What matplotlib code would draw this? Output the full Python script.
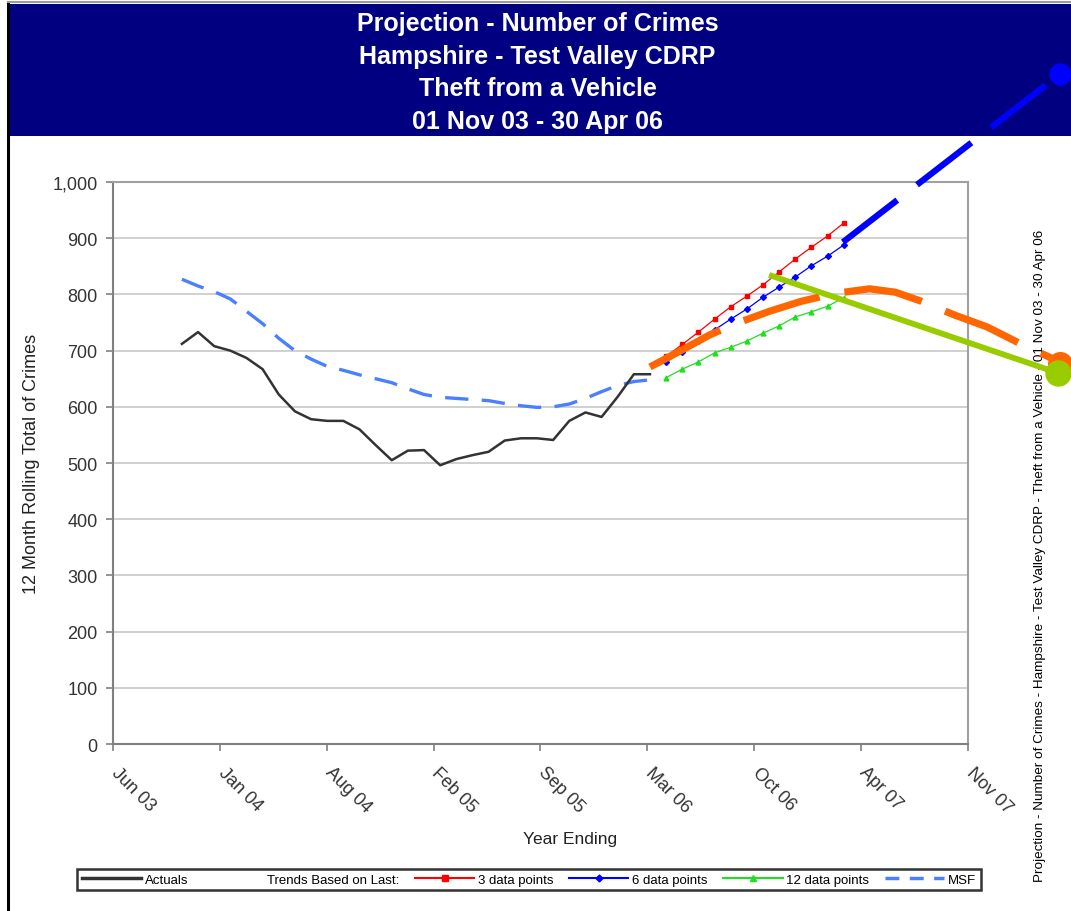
import matplotlib
matplotlib.use("Agg")
import matplotlib.pyplot as plt
import matplotlib.transforms as mtransforms
import numpy as np
from matplotlib.lines import Line2D
from matplotlib.patches import Rectangle

plt.rcParams["font.family"] = ["Liberation Sans", "DejaVu Sans"]

# --- data (x = months since Nov 03, y = 12 month rolling total) ---
actual_m = list(range(30))
actuals = [712, 733, 708, 700, 687, 667, 622, 592, 578, 575,
           575, 560, 532, 505, 522, 523, 496, 507, 514, 520,
           540, 544, 544, 541, 575, 590, 582, 618, 658, 658]
msf = [827, 815, 805, 792, 770, 748, 722, 700, 685, 672,
       665, 657, 650, 643, 632, 622, 617, 615, 613, 611,
       606, 602, 599, 600, 605, 615, 627, 638, 645, 648]

proj_m = list(range(30, 42))
trend_3 = [690, 711, 733, 756, 778, 797, 817, 840, 863, 884, 904, 927]
trend_6 = [680, 698, 717, 737, 756, 774, 795, 813, 831, 851, 868, 888]
trend_12 = [652, 667, 680, 696, 706, 717, 731, 744, 760, 769, 779, 794]

# hand-drawn annotations laid over the chart
blue_note_m = [40.95, 54.4]
blue_note_v = [893, 1192]
orange_note_m = [29.0, 30.85, 32.7, 34.4, 36.4, 38.4, 40.5, 42.6, 44.2,
                 45.8, 47.9, 49.9, 51.9, 54.0, 54.4]
orange_note_v = [671, 699, 728, 749, 770, 788, 802, 810, 804,
                 788, 763, 742, 713, 685, 676]
green_note_m = [36.55, 54.3]
green_note_v = [833, 660]

tick_labels = ["Jun 03", "Jan 04", "Aug 04", "Feb 05", "Sep 05",
               "Mar 06", "Oct 06", "Apr 07", "Nov 07"]
title_lines = ["Projection - Number of Crimes", "Hampshire - Test Valley CDRP",
               "Theft from a Vehicle", "01 Nov 03 - 30 Apr 06"]
side_note = ("Projection - Number of Crimes - Hampshire - Test Valley CDRP - "
             "Theft from a Vehicle - 01 Nov 03 - 30 Apr 06")

fig = plt.figure(figsize=(10.71, 9.12), dpi=100)

# navy title banner
fig.patches.append(Rectangle((0.0075, 0.850), 0.9925, 0.145, transform=fig.transFigure,
                             facecolor="#000080", edgecolor="none", zorder=-1))
for i, line in enumerate(title_lines):
    fig.text(0.502, 0.974 - i * 0.036, line, color="white", fontsize=18,
             fontweight="bold", ha="center", va="center")
fig.add_artist(Line2D([0.0075, 0.0075], [0, 0.997], transform=fig.transFigure,
                      color="black", lw=2.2))
fig.add_artist(Line2D([0.0075, 1.0], [0.997, 0.997], transform=fig.transFigure,
                      color="#9a9a9a", lw=1.5))

ax = fig.add_axes([0.1055, 0.1831, 0.7983, 0.6162])
ax.set_xlim(-4.27, 48.7)
ax.set_ylim(0, 1000)

ax.plot(actual_m, actuals, color="#333333", lw=1.8, zorder=4)
ax.plot(actual_m, msf, color="#4A80FF", lw=2.4, dashes=(7, 4), zorder=3)
ax.plot(proj_m, trend_3, color="#FF0000", lw=0.9, marker="s", ms=3.5, zorder=3)
ax.plot(proj_m, trend_6, color="#0000FF", lw=0.9, marker="D", ms=3, zorder=3)
ax.plot(proj_m, trend_12, color="#22DD22", lw=0.9, marker="^", ms=3.5, zorder=3)

# annotations spill outside the plot area
ax.plot(blue_note_m, blue_note_v, color="#0000FF", lw=4.5, dashes=(11, 4),
        clip_on=False, zorder=6, solid_capstyle="butt")
ax.plot(blue_note_m[-1:], blue_note_v[-1:], "o", color="#0000FF", ms=15,
        clip_on=False, zorder=6)
ax.plot(orange_note_m, orange_note_v, color="#FF6600", lw=5.2, dashes=(11, 3.5),
        clip_on=False, zorder=6)
ax.plot(orange_note_m[-1:], orange_note_v[-1:], "o", color="#FF6600", ms=17,
        clip_on=False, zorder=6)
ax.plot(green_note_m, green_note_v, color="#99CC00", lw=4.2, clip_on=False, zorder=7)
ax.plot(green_note_m[-1:], green_note_v[-1:], "o", color="#99CC00", ms=18,
        clip_on=False, zorder=7)

ax.set_yticks(np.arange(0, 1001, 100))
ax.set_yticklabels([f"{v:,}" for v in range(0, 1001, 100)])
ax.set_xticks(np.linspace(-4.27, 48.7, len(tick_labels)))
ax.set_xticklabels(tick_labels, rotation=-45, ha="left", va="top",
                   rotation_mode="anchor")
ax.tick_params(axis="both", colors="#808080", labelcolor="#333333",
               labelsize=13, length=5, width=1.2)
ax.tick_params(axis="x", pad=9)
ax.tick_params(axis="y", pad=6)
shift = mtransforms.ScaledTranslation(7 / 100, 0, fig.dpi_scale_trans)
for lbl in ax.get_xticklabels():
    lbl.set_transform(lbl.get_transform() + shift)
ax.grid(axis="y", color="#C8C8C8", lw=1.2)
ax.set_axisbelow(True)
for s in ax.spines.values():
    s.set_color("#A0A0A0")
    s.set_linewidth(1.5)
ax.spines["left"].set_color("#808080")
ax.spines["bottom"].set_color("#808080")

ax.set_ylabel("12 Month Rolling Total of Crimes", fontsize=13, color="#222222")
ax.yaxis.set_label_coords(-0.085, 0.5)
ax.set_xlabel("Year Ending", fontsize=12.5, color="#222222")
ax.xaxis.set_label_coords(0.535, -0.155)

fig.text(1040 / 1071, 0.391, side_note, rotation=90, fontsize=9.7,
         ha="center", va="center", zorder=-0.5)

handles = [
    Line2D([], [], color="#333333", lw=2.5),
    Line2D([], [], color="none"),
    Line2D([], [], color="#FF0000", lw=1.5, marker="s", ms=4),
    Line2D([], [], color="#0000FF", lw=1.5, marker="D", ms=3.5),
    Line2D([], [], color="#22DD22", lw=1.5, marker="^", ms=4),
    Line2D([], [], color="#4A80FF", lw=2.5, dashes=(4, 3)),
]
labels = ["Actuals", "Trends Based on Last:", "3 data points", "6 data points",
          "12 data points", "MSF"]
leg = fig.legend(handles, labels, loc="center", ncol=6, fontsize=9.5,
                 bbox_to_anchor=(0.066, 0.0186, 0.856, 0.032), mode="expand",
                 fancybox=False, edgecolor="black", handlelength=4.5,
                 handletextpad=0.3, columnspacing=1.0, borderpad=0.35)
leg.get_frame().set_linewidth(1.8)

fig.savefig("out.png", dpi=100)
